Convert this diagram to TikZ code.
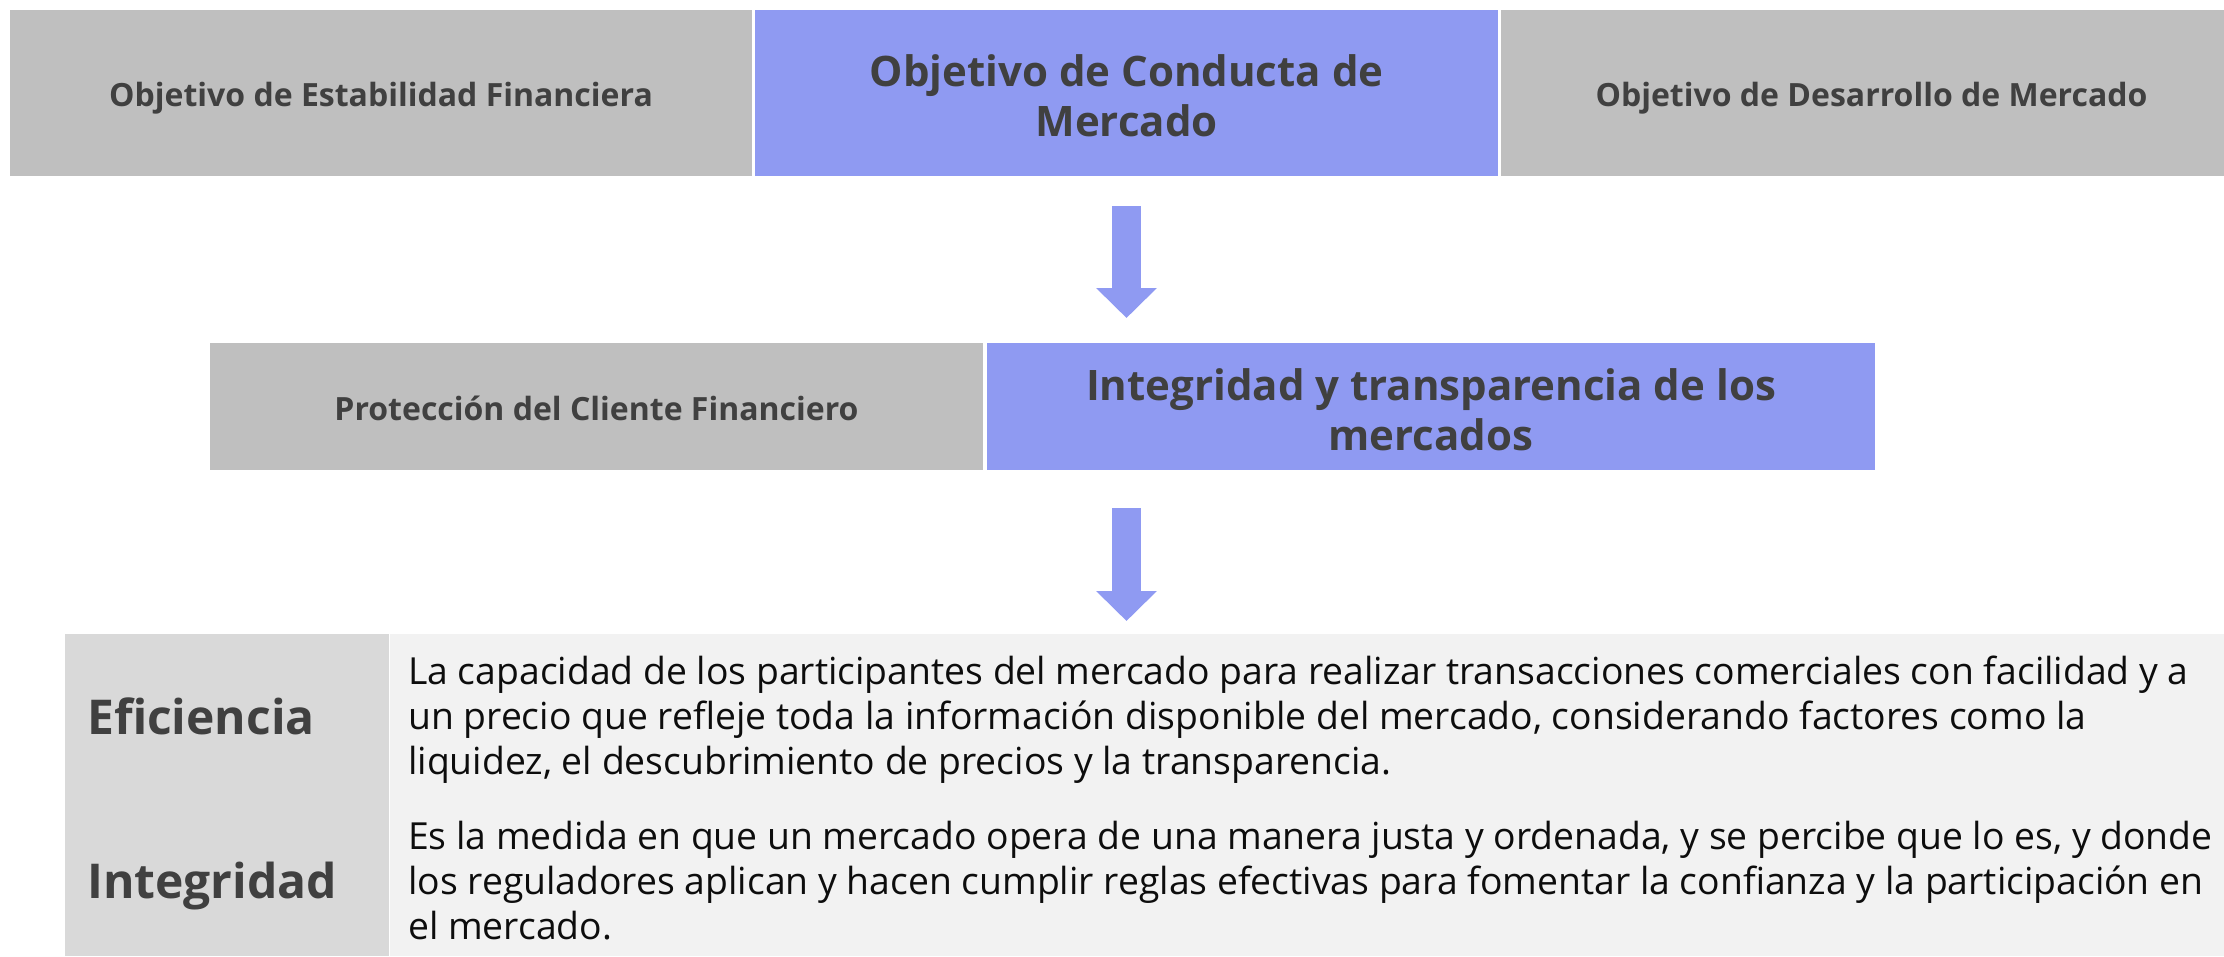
\documentclass[tikz,border=0pt]{standalone}
\usepackage{fontspec}
\setmainfont{Open Sans}
\usetikzlibrary{arrows.meta}
\definecolor{boxgray}{RGB}{191,191,191}
\definecolor{boxblue}{RGB}{143,154,242}
\definecolor{tabdark}{RGB}{217,217,217}
\definecolor{tablight}{RGB}{242,242,242}
\definecolor{txtgray}{RGB}{64,64,64}
\definecolor{txtdark}{RGB}{13,13,13}
\tikzset{
  panel/.style={rectangle, inner sep=0pt, outer sep=0pt, anchor=north west, align=center, text=txtgray},
  smalllabel/.style={font=\fontsize{32}{40}\selectfont\bfseries, text depth=0pt, text height=27pt},
  biglabel/.style={inner sep=0pt, align=center, text=txtgray, font=\fontsize{42}{50}\selectfont\bfseries},
  rowhead/.style={inner sep=0pt, anchor=base west, text=txtgray, font=\fontsize{48}{56}\selectfont\bfseries},
  rowtext/.style={inner sep=0pt, anchor=base west, align=left, text=txtdark, font=\fontsize{37.3}{45}\selectfont},
  bigarrow/.style={draw=boxblue, line width=29pt, -{Triangle[length=30pt,width=59pt]}}
}
\begin{document}
\begin{tikzpicture}[x=1pt,y=-1pt]
\useasboundingbox (0,0) rectangle (2224,956);
% top row
\node[panel, smalllabel, fill=boxgray, minimum width=742pt, minimum height=166pt] (estab) at (10,10) {Objetivo de Estabilidad Financiera};
\node[panel, fill=boxblue, minimum width=743pt, minimum height=166pt] (cond) at (755,10) {};
\node[biglabel] (condtxt) at ([yshift=-3pt]cond.center) {Objetivo de Conducta de\\Mercado};
\node[panel, smalllabel, fill=boxgray, minimum width=723pt, minimum height=166pt] (desa) at (1501,10) {\hspace*{18pt}Objetivo de Desarrollo de Mercado};
% second row
\node[panel, smalllabel, fill=boxgray, minimum width=773pt, minimum height=127pt] (prot) at (210,343) {Protección del Cliente Financiero};
\node[panel, fill=boxblue, minimum width=888pt, minimum height=127pt] (integ) at (987,343) {};
\node[biglabel] (integtxt) at ([yshift=-3pt]integ.center) {Integridad y transparencia de los\\mercados};
% table
\node[panel, fill=tabdark, minimum width=324pt, minimum height=322pt] (tabl) at (65,634) {};
\node[panel, fill=tablight, minimum width=1834pt, minimum height=322pt] (tabr) at (390,634) {};
\node[rowhead] (hefi) at (87,734) {Eficiencia};
\node[rowhead] (hint) at (87,898) {Integridad};
\node[rowtext] (pefi) at (408,774) {La capacidad de los participantes del mercado para realizar transacciones comerciales con facilidad y a\\un precio que refleje toda la información disponible del mercado, considerando factores como la\\liquidez, el descubrimiento de precios y la transparencia.};
\node[rowtext] (pint) at (408,939) {Es la medida en que un mercado opera de una manera justa y ordenada, y se percibe que lo es, y donde\\los reguladores aplican y hacen cumplir reglas efectivas para fomentar la confianza y la participación en\\el mercado.};
% arrows
\draw[bigarrow, shorten <=30pt, shorten >=25pt] (cond.south) -- (cond.south |- integ.north);
\draw[bigarrow, shorten <=38pt, shorten >=13pt] (cond.south |- integ.south) -- (cond.south |- tabl.north);
\end{tikzpicture}
\end{document}
